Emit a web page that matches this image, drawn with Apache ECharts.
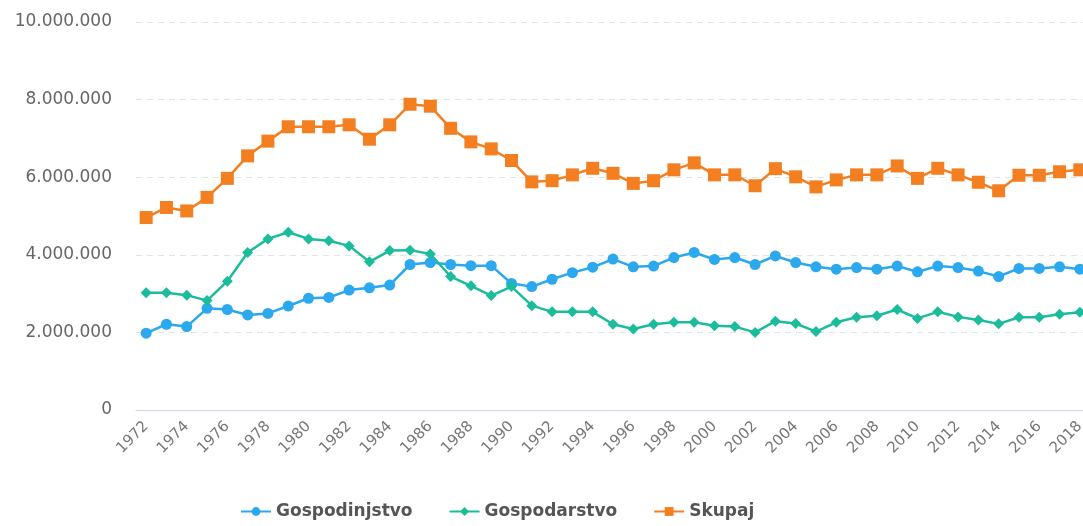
<!DOCTYPE html>
<html>
<head>
<meta charset="utf-8">
<script src="https://cdn.jsdelivr.net/npm/echarts@6/dist/echarts.min.js"></script>
<style>
  html, body { margin: 0; padding: 0; background: #fff; }
  #chart { width: 1083px; height: 526px; }
</style>
</head>
<body>
<div id="chart"></div>
<script>
// leta
const years = [];
for (let y = 1972; y <= 2018; y++) years.push(String(y));

// Gospodinjstvo
const gospodinjstvo = [
  1980000, 2210000, 2150000, 2620000, 2590000, 2450000, 2490000, 2680000, 2880000, 2900000,
  3090000, 3150000, 3220000, 3750000, 3800000, 3750000, 3720000, 3720000, 3260000, 3180000,
  3370000, 3540000, 3680000, 3890000, 3690000, 3710000, 3930000, 4060000, 3880000, 3930000,
  3750000, 3970000, 3800000, 3690000, 3630000, 3670000, 3630000, 3710000, 3560000, 3710000,
  3670000, 3580000, 3440000, 3650000, 3650000, 3690000, 3630000
];

// Gospodarstvo
const gospodarstvo = [
  3020000, 3020000, 2960000, 2820000, 3320000, 4060000, 4410000, 4580000, 4410000, 4360000,
  4230000, 3820000, 4110000, 4120000, 4020000, 3440000, 3200000, 2950000, 3180000, 2690000,
  2530000, 2530000, 2530000, 2210000, 2090000, 2210000, 2260000, 2260000, 2170000, 2150000,
  2000000, 2290000, 2230000, 2020000, 2260000, 2390000, 2430000, 2590000, 2360000, 2530000,
  2400000, 2320000, 2220000, 2390000, 2390000, 2470000, 2520000
];

// Skupaj
const skupaj = [
  4960000, 5220000, 5130000, 5480000, 5970000, 6550000, 6930000, 7300000, 7300000, 7300000,
  7350000, 6980000, 7350000, 7880000, 7830000, 7260000, 6910000, 6730000, 6430000, 5880000,
  5910000, 6060000, 6230000, 6100000, 5840000, 5910000, 6190000, 6370000, 6060000, 6060000,
  5780000, 6220000, 6010000, 5750000, 5930000, 6060000, 6060000, 6290000, 5970000, 6230000,
  6060000, 5870000, 5650000, 6050000, 6050000, 6140000, 6190000
];

const FONT = 'DejaVu Sans';

const fmt = (v) => String(v).replace(/\B(?=(\d{3})+(?!\d))/g, '.');

const chart = echarts.init(document.getElementById('chart'));

const lineSeries = (name, data, color, symbol, size) => ({
  name,
  type: 'line',
  data,
  symbol,
  symbolSize: size,
  lineStyle: { width: 2.5, color },
  itemStyle: { color },
  emphasis: { disabled: true },
  z: name === 'Skupaj' ? 3 : 2,
});

chart.setOption({
  animation: false,
  textStyle: { fontFamily: FONT },
  grid: { left: 136, top: 22, width: 954, height: 388, outerBoundsMode: 'none' },
  legend: {
    left: 240,
    top: 503,
    itemGap: 36,
    itemWidth: 30,
    itemHeight: 11,
    padding: 0,
    textStyle: { fontFamily: FONT, fontSize: 17, fontWeight: 'bold', color: '#555' },
    data: ['Gospodinjstvo', 'Gospodarstvo', 'Skupaj'],
  },
  xAxis: {
    type: 'category',
    data: years,
    boundaryGap: true,
    axisLine: { lineStyle: { color: '#ccd6eb' } },
    axisTick: { alignWithLabel: true, interval: 1, length: 17, lineStyle: { color: '#ccd6eb' } },
    axisLabel: {
      interval: 1,
      rotate: 45,
      fontSize: 15,
      color: '#777',
      fontFamily: FONT,
      margin: 14,
    },
  },
  yAxis: {
    type: 'value',
    min: 0,
    max: 10000000,
    interval: 2000000,
    axisLine: { show: false },
    axisTick: { show: false },
    splitLine: { lineStyle: { color: '#e3e3e3', type: [6, 5] } },
    axisLabel: {
      fontSize: 17,
      color: '#666',
      fontFamily: FONT,
      margin: 24,
      formatter: fmt,
    },
  },
  series: [
    lineSeries('Gospodinjstvo', gospodinjstvo, '#2ba8ee', 'circle', 11),
    lineSeries('Gospodarstvo', gospodarstvo, '#1bbc9b', 'diamond', 11),
    lineSeries('Skupaj', skupaj, '#f37f21', 'rect', 13),
  ],
});
</script>
</body>
</html>
